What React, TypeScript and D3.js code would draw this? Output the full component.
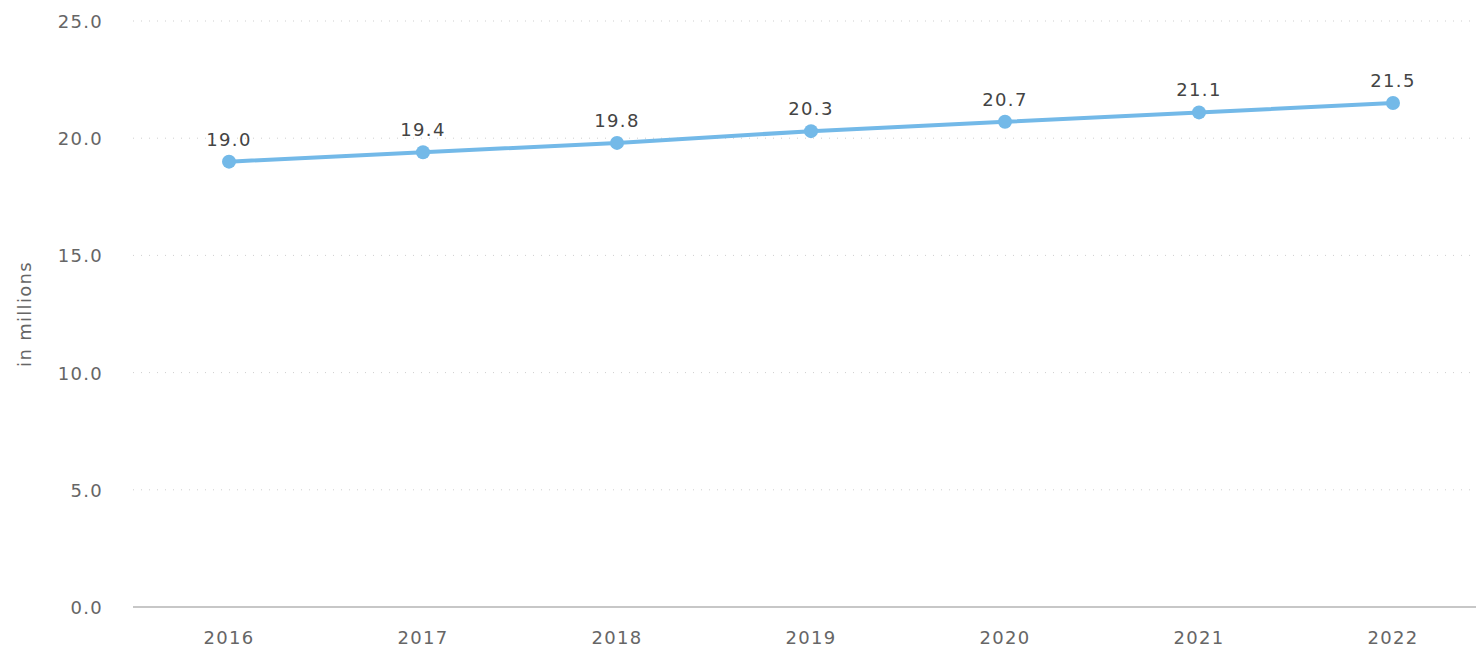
import React, { useEffect, useRef } from 'react'
import * as d3 from 'd3'

// figures
const years = ['2016', '2017', '2018', '2019', '2020', '2021', '2022']
const values = [19.0, 19.4, 19.8, 20.3, 20.7, 21.1, 21.5]
const yTicks = [0, 5, 10, 15, 20, 25]

const W = 1476
const H = 651
const FONT = '"DejaVu Sans", Verdana, sans-serif'
const FS = 18
const LS = 1.3

export default function App() {
    const ref = useRef<SVGSVGElement>(null)

    useEffect(() => {
        const svg = d3.select(ref.current)
        svg.selectAll('*').remove()

        const x = d3.scaleBand<string>().domain(years).range([132, 1490])
        const y = d3.scaleLinear().domain([0, 25]).range([607, 21])
        const cx = (d: string) => (x(d) as number) + x.bandwidth() / 2

        const label = (sel: any) => sel
            .attr('font-family', FONT)
            .attr('font-size', FS)
            .attr('letter-spacing', LS)

        // dotted gridlines
        svg.append('g')
            .selectAll('line')
            .data(yTicks.filter(t => t > 0))
            .enter()
            .append('line')
            .attr('x1', 133)
            .attr('x2', W)
            .attr('y1', d => y(d))
            .attr('y2', d => y(d))
            .attr('stroke', '#cfcfcf')
            .attr('stroke-width', 1)
            .attr('stroke-dasharray', '1,7')

        // baseline
        svg.append('line')
            .attr('x1', 133)
            .attr('x2', W)
            .attr('y1', y(0))
            .attr('y2', y(0))
            .attr('stroke', '#b5b5b5')
            .attr('stroke-width', 1.5)

        // y tick labels
        svg.append('g')
            .selectAll('text')
            .data(yTicks)
            .enter()
            .append('text')
            .attr('x', 103)
            .attr('y', d => y(d) + 7)
            .attr('text-anchor', 'end')
            .call(label)
            .attr('fill', '#666')
            .text(d => d.toFixed(1))

        // x tick labels
        svg.append('g')
            .selectAll('text')
            .data(years)
            .enter()
            .append('text')
            .attr('x', d => cx(d))
            .attr('y', 644)
            .attr('text-anchor', 'middle')
            .call(label)
            .attr('fill', '#666')
            .text(d => d)

        svg.append('text')
            .attr('transform', `translate(31,314) rotate(-90)`)
            .attr('text-anchor', 'middle')
            .call(label)
            .attr('fill', '#666')
            .text('in millions')

        const line = d3.line<number>()
            .x((_, i) => cx(years[i]))
            .y(d => y(d))

        svg.append('path')
            .datum(values)
            .attr('d', line)
            .attr('fill', 'none')
            .attr('stroke', '#73b9e8')
            .attr('stroke-width', 4)

        svg.append('g')
            .selectAll('circle')
            .data(values)
            .enter()
            .append('circle')
            .attr('cx', (_, i) => cx(years[i]))
            .attr('cy', d => y(d))
            .attr('r', 7)
            .attr('fill', '#73b9e8')

        svg.append('g')
            .selectAll('text')
            .data(values)
            .enter()
            .append('text')
            .attr('x', (_, i) => cx(years[i]))
            .attr('y', d => y(d) - 16)
            .attr('text-anchor', 'middle')
            .call(label)
            .attr('fill', '#444')
            .text(d => d.toFixed(1))
    }, [])

    return (
        <svg ref={ref} width={W} height={H}
            style={{ position: 'absolute', left: 0, top: 0, background: '#fff' }} />
    )
}
